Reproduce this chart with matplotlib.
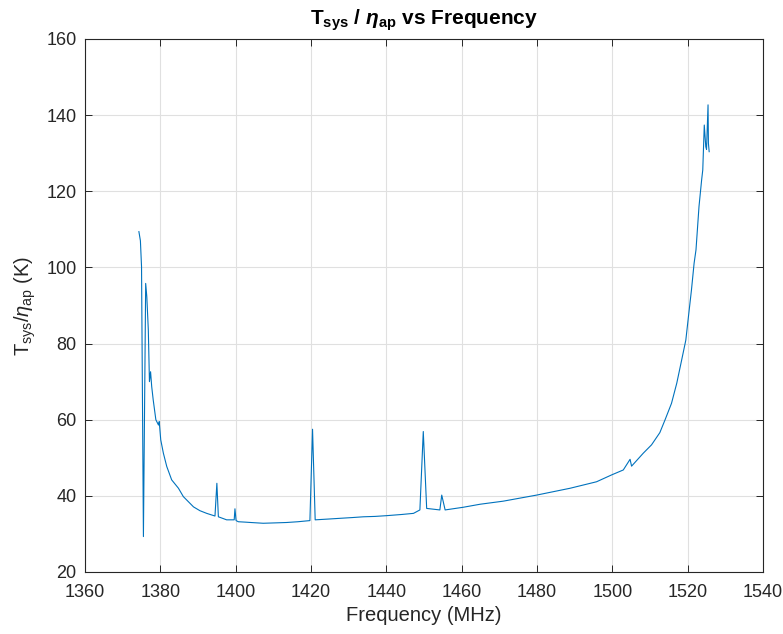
import numpy as np
import matplotlib.pyplot as plt

plt.rcParams['font.family'] = ['Liberation Sans', 'DejaVu Sans']
plt.rcParams['mathtext.fontset'] = 'custom'
plt.rcParams['mathtext.rm'] = 'Liberation Sans'
plt.rcParams['mathtext.it'] = 'Liberation Sans:italic'
plt.rcParams['mathtext.bf'] = 'Liberation Sans:bold'
plt.rcParams['mathtext.bfit'] = 'Liberation Sans:bold:italic'

# frequency (MHz) and Tsys/eta_ap (K)
freq = [1374.3, 1374.7, 1375.0, 1375.5, 1376.1, 1376.4, 1376.8, 1377.1, 1377.4,
        1377.7, 1378.1, 1378.8, 1379.5, 1379.7, 1380.1, 1380.8, 1381.7, 1383.0,
        1384.8, 1386.1, 1388.8, 1390.5, 1392.3, 1394.5, 1395.0, 1395.4, 1397.6, 1399.6,
        1399.8, 1400.1, 1400.7, 1402.5, 1404.0, 1407.3, 1410.5, 1413.5, 1416.5, 1419.7,
        1420.4, 1421.1, 1424.5, 1427.7, 1431.0, 1433.9, 1437.0, 1440.1, 1444.0,
        1447.2, 1448.9, 1449.8, 1450.7, 1454.2, 1454.7, 1455.6, 1460.4, 1464.9,
        1471.0, 1479.9, 1488.8, 1495.8, 1499.8, 1502.9, 1504.7, 1505.1, 1508.2,
        1510.4, 1512.6, 1514.0, 1515.7, 1517.1, 1518.4, 1519.5, 1520.2, 1521.0,
        1521.7, 1522.2, 1523.0, 1523.7, 1524.0, 1524.4, 1524.8, 1525.0, 1525.4,
        1525.5, 1525.7]
tsys = [109.4, 107.0, 100.2, 29.3, 95.8, 92.3, 83.6, 70.0, 72.6,
        68.7, 65.2, 60.0, 58.6, 59.5, 54.7, 51.2, 47.7, 44.2,
        42.0, 39.8, 37.1, 36.1, 35.4, 34.7, 43.3, 34.5, 33.7, 33.7,
        36.6, 33.5, 33.2, 33.1, 33.0, 32.8, 32.9, 33.0, 33.2, 33.5,
        57.5, 33.7, 33.9, 34.1, 34.3, 34.5, 34.6, 34.8, 35.1,
        35.4, 36.3, 56.9, 36.7, 36.3, 40.2, 36.3, 37.0, 37.8,
        38.6, 40.2, 42.0, 43.7, 45.5, 46.8, 49.6, 47.8, 51.2,
        53.4, 56.6, 60.0, 64.3, 69.6, 75.7, 80.9, 87.1, 94.1,
        101.1, 104.6, 116.0, 123.0, 125.6, 137.4, 131.7, 131.0, 142.7,
        132.6, 130.4]

fig = plt.figure(figsize=(7.83, 6.34), dpi=100)
ax = fig.add_axes([0.1086, 0.0978, 0.8659, 0.8407])

ax.plot(freq, tsys, color='#0072BD', linewidth=0.8)

ax.set_xlim(1360, 1540)
ax.set_ylim(20, 160)
ax.set_xticks(np.arange(1360, 1541, 20))
ax.set_yticks(np.arange(20, 161, 20))
ax.grid(True, color='#e0e0e0', linewidth=0.8)
ax.set_axisbelow(True)
ax.tick_params(direction='in', top=True, right=True, labelsize=13,
               colors='#262626', length=5, width=0.7)
ax.tick_params(axis='x', pad=9)
ax.tick_params(axis='y', pad=6)
for s in ax.spines.values():
    s.set_color('#262626')
    s.set_linewidth(0.8)

ax.set_xlabel('Frequency (MHz)', fontsize=14.5, color='#262626', labelpad=3)
ax.set_ylabel(r'T$_{\rm sys}$/$\eta_{\rm ap}$ (K)', fontsize=14.5, color='#262626',
              labelpad=6)
ax.set_title(r'$\mathbf{T_{sys}}$ / $\boldsymbol{\eta}_{\mathbf{ap}}$ vs Frequency',
             fontsize=15, fontweight='bold', pad=10)

fig.savefig('out.png', dpi=100)
